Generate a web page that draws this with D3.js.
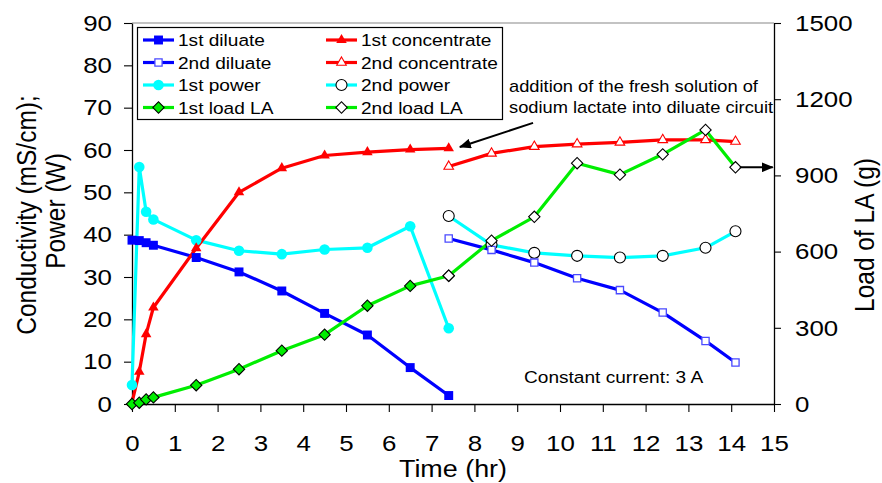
<!DOCTYPE html>
<html><head><meta charset="utf-8">
<script src="https://cdn.jsdelivr.net/npm/d3@7"></script>
<style>
body{margin:0;background:#fff}
svg{display:block;font-family:"Liberation Sans",Arial,sans-serif}
</style>
</head><body><svg id="c" width="882" height="483"></svg>
<script>
// ---- data ----
const t1 = [0, 0.17, 0.33, 0.5, 1.5, 2.5, 3.5, 4.5, 5.5, 6.5, 7.4];
const t2 = [7.4, 8.4, 9.4, 10.4, 11.4, 12.4, 13.4, 14.1];
const diluate1 = [38.7, 38.6, 38.1, 37.5, 34.6, 31.2, 26.7, 21.4, 16.3, 8.6, 2.0];
const diluate2 = [39.1, 36.4, 33.4, 29.7, 26.9, 21.6, 14.9, 9.8];
const concentrate1 = [0.3, 7.6, 16.5, 22.8, 36.8, 50.0, 55.7, 58.7, 59.5, 60.1, 60.4];
const concentrate2 = [56.1, 59.2, 60.8, 61.4, 61.8, 62.4, 62.4, 62.0];
const power1 = [4.5, 56.0, 45.4, 43.6, 38.7, 36.2, 35.4, 36.5, 36.9, 42.0, 17.9];
const power2 = [44.4, 37.6, 35.7, 35.0, 34.6, 35.0, 36.9, 40.8];
const loadLA1 = [0, 5, 18, 26, 74, 137, 210, 273, 387, 465, 505];
const loadLA2 = [505, 643, 737, 948, 903, 983, 1079, 932];
const xTicks = [0,1,2,3,4,5,6,7,8,9,10,11,12,13,14,15];
const yLeftTicks = [0,10,20,30,40,50,60,70,80,90];
const yRightTicks = [0,300,600,900,1200,1500];
const legendNames = ["1st diluate","1st concentrate","2nd diluate","2nd concentrate","1st power","2nd power","1st load LA","2nd load LA"];

// ---- layout ----
const L = 132, R = 774, T = 23, B = 404;
const SX = 1.15; // horizontal text stretch of the original
const svg = d3.select("#c");
const x = d3.scaleLinear().domain([0,15]).range([L,R]);
const yL = d3.scaleLinear().domain([0,90]).range([B,T]);
const yR = d3.scaleLinear().domain([0,1500]).range([B,T]);

const BLUE="#0000ff", RED="#ff0000", CYAN="#00ffff", GREEN="#00ee00";

function txt(g, s, px, py, size, anchor){
  return g.append("text").text(s)
    .attr("transform",`translate(${px},${py}) scale(${SX},1)`)
    .attr("font-size",size).attr("text-anchor",anchor||"start").attr("fill","#000");
}
function vtxt(g, s, px, py, size){
  return g.append("text").text(s)
    .attr("transform",`translate(${px},${py}) rotate(-90) scale(1,${SX})`)
    .attr("font-size",size).attr("text-anchor","middle").attr("fill","#000");
}

// top border
svg.append("line").attr("x1",x(0)).attr("x2",x(15)).attr("y1",yL(90)).attr("y2",yL(90))
  .attr("stroke","#888").attr("stroke-width",1.2);

// axes
function styleAxis(g){
  g.selectAll("path.domain").attr("stroke","#000").attr("stroke-width",1.3);
  g.selectAll(".tick line").attr("stroke","#000").attr("stroke-width",1.1);
  g.selectAll("text").attr("font-family",null).attr("fill","#000");
}
const gL = svg.append("g").attr("transform",`translate(${L},0)`)
  .call(d3.axisLeft(yL).tickValues(yLeftTicks).tickSize(8).tickSizeOuter(0).tickPadding(12).tickFormat(d3.format("d")));
styleAxis(gL);
gL.selectAll("text").attr("font-size",22.5).each(function(){
  const t=d3.select(this); t.attr("x",(+t.attr("x"))/SX).attr("transform",`scale(${SX},1)`);
});
const gR = svg.append("g").attr("transform",`translate(${R},0)`)
  .call(d3.axisRight(yR).tickValues(yRightTicks).tickSize(7).tickSizeOuter(0).tickPadding(14).tickFormat(d3.format("d")));
styleAxis(gR);
gR.selectAll("text").attr("font-size",22.5).each(function(){
  const t=d3.select(this); t.attr("x",(+t.attr("x"))/SX).attr("transform",`scale(${SX},1)`);
});
const gB = svg.append("g").attr("transform",`translate(0,${B})`)
  .call(d3.axisBottom(x).tickValues(xTicks).tickSize(8).tickSizeOuter(0).tickFormat(d3.format("d")));
styleAxis(gB);
gB.selectAll("text").attr("font-size",22.5).attr("y",47).attr("dy",0)
  .attr("transform",`scale(${SX},1)`);

// axis titles
txt(svg,"Time (hr)",(L+R)/2,477,23.4,"middle");
vtxt(svg,"Conductivity (mS/cm);",36,215,24.5);
vtxt(svg,"Power (W)",65,211,24.5);
vtxt(svg,"Load of LA (g)",874,235,24.5);

// series
const series = [
  {t:t1, v:power1, y:yL, color:CYAN, sym:"circle", fill:CYAN, stroke:"none", size:88},
  {t:t2, v:power2, y:yL, color:CYAN, sym:"circle", fill:"#fff", stroke:"#000", size:95},
  {t:t1, v:diluate1, y:yL, color:BLUE, sym:"square", fill:BLUE, stroke:"none", size:80},
  {t:t2, v:diluate2, y:yL, color:BLUE, sym:"square", fill:"#fff", stroke:"#4a4aff", size:52},
  {t:t1, v:concentrate1, y:yL, color:RED, sym:"triangle", fill:RED, stroke:"none", size:48},
  {t:t2, v:concentrate2, y:yL, color:RED, sym:"triangle", fill:"#fff", stroke:RED, size:40},
  {t:t1, v:loadLA1, y:yR, color:GREEN, sym:"diamond", fill:GREEN, stroke:"#000", size:64},
  {t:t2, v:loadLA2, y:yR, color:GREEN, sym:"diamond", fill:"#fff", stroke:"#000", size:64},
];
const symMap = {circle:d3.symbolCircle, square:d3.symbolSquare, triangle:d3.symbolTriangle, diamond:d3.symbolSquare};
function drawMarker(g, s, px, py){
  g.append("path").attr("d", d3.symbol(symMap[s.sym], s.size)())
    .attr("transform", `translate(${px},${py})` + (s.sym==="diamond"?" rotate(45)":""))
    .attr("fill", s.fill).attr("stroke", s.stroke).attr("stroke-width", s.sym==="square"?1.3:1.1);
}
const gS = svg.append("g");
series.forEach(s=>{
  const pts = s.t.map((tt,i)=>[x(tt), s.y(s.v[i])]);
  gS.append("path").attr("d", d3.line()(pts)).attr("fill","none")
    .attr("stroke", s.color).attr("stroke-width",3.2).attr("stroke-linejoin","round");
});
series.forEach(s=>{
  s.t.forEach((tt,i)=>drawMarker(gS, s, x(tt), s.y(s.v[i])));
});

// legend
const lg = svg.append("g");
lg.append("rect").attr("x",137.5).attr("y",27.5).attr("width",365).attr("height",92)
  .attr("fill","#fff").attr("stroke","#000").attr("stroke-width",1.2);
const legendOrder = [2,4,3,5,0,1,6,7];
const rowsY = [40,62.5,85,107.5];
const colX = [143,326];
legendNames.forEach((name,i)=>{
  const s = series[legendOrder[i]];
  const col = i%2, row = Math.floor(i/2);
  const x0 = colX[col], yy = rowsY[row];
  lg.append("line").attr("x1",x0).attr("x2",x0+31).attr("y1",yy).attr("y2",yy)
    .attr("stroke",s.color).attr("stroke-width",3.2);
  drawMarker(lg, s, x0+15.5, yy);
  txt(lg, name, x0+35, yy+6, 16.6, "start");
});

// annotations
const defs = svg.append("defs");
defs.append("marker").attr("id","ah").attr("viewBox","0 0 12 10").attr("refX",11).attr("refY",5)
  .attr("markerWidth",12).attr("markerHeight",10).attr("markerUnits","userSpaceOnUse").attr("orient","auto")
  .append("path").attr("d","M0,0 L12,5 L0,10 Z").attr("fill","#000");
svg.append("line").attr("x1",x(9.37)).attr("y1",yL(66.4)).attr("x2",x(7.66)).attr("y2",yL(60.7))
  .attr("stroke","#000").attr("stroke-width",2).attr("marker-end","url(#ah)");
svg.append("line").attr("x1",x(14.2)).attr("y1",yR(932)).attr("x2",x(14.97)).attr("y2",yR(932))
  .attr("stroke","#000").attr("stroke-width",2).attr("marker-end","url(#ah)");
txt(svg,"addition of the fresh solution of",509,92,15.9,"start");
txt(svg,"sodium lactate into diluate circuit",509,113,15.9,"start");
txt(svg,"Constant current: 3 A",524,383,16.6,"start");
</script>
</body></html>
